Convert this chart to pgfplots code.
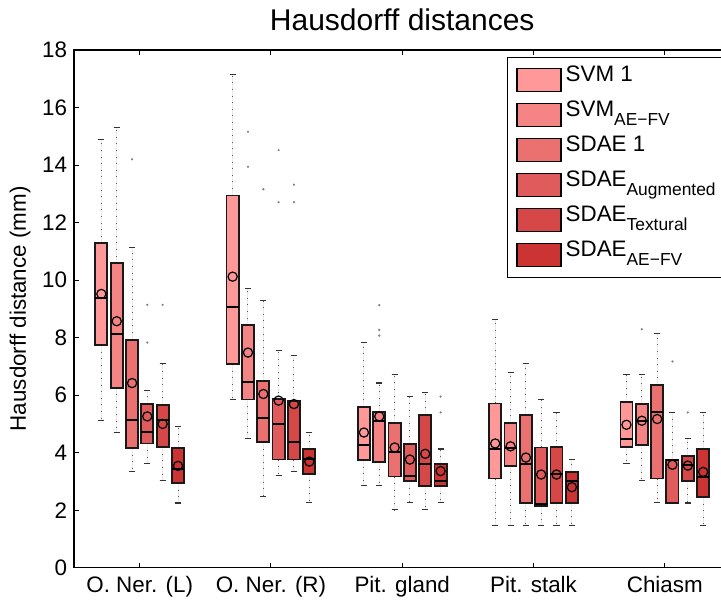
\documentclass[border=0pt]{standalone}
\usepackage{fontspec}
\setmainfont{Liberation Sans}
\usepackage{pgfplots}
\pgfplotsset{compat=1.18}
\usepgfplotslibrary{statistics}

\definecolor{c1}{RGB}{255,153,153}
\definecolor{c2}{RGB}{245,133,133}
\definecolor{c3}{RGB}{235,112,112}
\definecolor{c4}{RGB}{224,92,92}
\definecolor{c5}{RGB}{214,71,71}
\definecolor{c6}{RGB}{204,51,51}

\newcommand{\sub}[1]{\raisebox{-4.5pt}{\fontsize{8.7}{10}\selectfont #1}}

\pgfplotsset{
  /pgfplots/boxplot/draw/lower whisker/.code={%
    \draw[black!65, line width=0.5pt, dash pattern=on 0.5pt off 2.8pt]
      (boxplot box cs:\pgfplotsboxplotvalue{lower quartile},0.5) --
      (boxplot box cs:\pgfplotsboxplotvalue{lower whisker},0.5);
    \draw[black!80, line width=0.6pt]
      (boxplot whisker cs:\pgfplotsboxplotvalue{lower whisker},0) --
      (boxplot whisker cs:\pgfplotsboxplotvalue{lower whisker},1);
  },
  /pgfplots/boxplot/draw/upper whisker/.code={%
    \draw[black!65, line width=0.5pt, dash pattern=on 0.5pt off 2.8pt]
      (boxplot box cs:\pgfplotsboxplotvalue{upper quartile},0.5) --
      (boxplot box cs:\pgfplotsboxplotvalue{upper whisker},0.5);
    \draw[black!80, line width=0.6pt]
      (boxplot whisker cs:\pgfplotsboxplotvalue{upper whisker},0) --
      (boxplot whisker cs:\pgfplotsboxplotvalue{upper whisker},1);
  },
  /pgfplots/boxplot/draw/median/.code={%
    \draw[black, line width=1pt]
      (boxplot box cs:\pgfplotsboxplotvalue{median},0) --
      (boxplot box cs:\pgfplotsboxplotvalue{median},1);
  },
  hbox/.style={forget plot, draw=black!90, line width=0.9pt,
    mark=*, mark size=0.45pt, mark options={draw=gray, fill=gray, line width=0.2pt},
    boxplot/draw direction=y,
    boxplot/box extend=0.092, boxplot/whisker extend=0.046},
  mean/.style={forget plot, only marks, mark=o, mark size=2.3pt,
    mark options={draw=black, line width=0.6pt}},
  swatch/.style={legend image code/.code={%
    \draw[##1, draw=black, line width=0.6pt] (0pt,-5.75pt) rectangle (22pt,5.75pt);}},
}

% box without outliers: position, colour, lower whisker, lower quartile, median, upper quartile, upper whisker
\newcommand{\bx}[7]{%
  \addplot[hbox, fill=#2, boxplot prepared={draw position=#1, lower whisker=#3,
    lower quartile=#4, median=#5, upper quartile=#6, upper whisker=#7}] coordinates {};}
% same, with outliers in #8
\newcommand{\bxo}[8]{%
  \addplot[hbox, fill=#2, boxplot prepared={draw position=#1, lower whisker=#3,
    lower quartile=#4, median=#5, upper quartile=#6, upper whisker=#7}]
    table[row sep=\\, y index=0] {data\\ #8};}

\begin{document}
\begin{tikzpicture}
\begin{axis}[
  scale only axis, width=328.3pt, height=258.9pt,
  xmin=0.5, xmax=5.5, ymin=0, ymax=18,
  xtick={1,2,3,4,5},
  xticklabels={O. Ner. (L),O. Ner. (R),Pit. gland,Pit. stalk,Chiasm},
  ytick={0,2,...,18},
  tick align=inside, major tick length=2.5pt,
  axis line style={line width=0.6pt},
  every tick/.style={black, line width=0.5pt},
  tick label style={font=\fontsize{11.2}{13}\selectfont},
  xticklabel style={yshift=-1pt},
  /pgf/number format/assume math mode=true,
  title={Hausdorff distances},
  every axis title/.style={font=\fontsize{15}{18}\selectfont,
    at={(axis description cs:0.5,1)}, anchor=base, yshift=10pt},
  ylabel={Hausdorff distance (mm)},
  ylabel style={font=\fontsize{11.2}{13}\selectfont,
    at={(axis description cs:-0.0823,0.5)}, anchor=center},
  legend cell align=left,
  legend style={at={(axis description cs:0.6594,0.986)}, anchor=north west,
    draw=black, line width=0.6pt, font=\fontsize{11.2}{13}\selectfont,
    inner xsep=4.5pt, inner ysep=2.5pt, row sep=0pt,
    nodes={text height=9pt, text depth=7.5pt, inner ysep=0.5pt, inner xsep=2pt}},
]
% O. Ner. (L)
\bx{0.708}{c1}{5.12}{7.74}{9.39}{11.28}{14.90}
\bx{0.825}{c2}{4.71}{6.26}{8.13}{10.59}{15.31}
\bxo{0.942}{c3}{3.34}{4.16}{5.12}{7.93}{11.13}{14.20\\}
\bxo{1.058}{c4}{3.62}{4.32}{4.71}{5.69}{6.17}{9.14\\ 7.83\\}
\bxo{1.175}{c5}{3.02}{4.19}{5.13}{5.66}{7.10}{9.14\\}
\bx{1.292}{c6}{2.25}{2.94}{3.44}{4.15}{4.91}
% O. Ner. (R)
\bx{1.708}{c1}{5.86}{7.08}{9.08}{12.94}{17.16}
\bxo{1.825}{c2}{4.49}{5.85}{6.44}{8.43}{9.72}{15.16\\ 13.94\\}
\bxo{1.942}{c3}{2.48}{4.37}{5.21}{6.50}{9.30}{13.16\\}
\bxo{2.058}{c4}{3.20}{3.76}{5.01}{5.86}{7.56}{14.52\\ 12.71\\}
\bxo{2.175}{c5}{3.34}{3.76}{4.38}{5.80}{7.38}{13.32\\ 12.71\\}
\bx{2.292}{c6}{2.26}{3.27}{3.78}{4.13}{4.71}
% Pit. gland
\bx{2.708}{c1}{2.85}{3.74}{4.26}{5.59}{7.83}
\bxo{2.825}{c2}{2.85}{3.67}{5.11}{5.41}{6.42}{9.13\\ 8.27\\ 8.07\\}
\bx{2.942}{c3}{2.02}{3.17}{4.02}{5.03}{6.73}
\bx{3.058}{c4}{2.26}{3.01}{3.19}{4.31}{5.94}
\bx{3.175}{c5}{2.02}{2.84}{3.62}{5.31}{6.10}
\bxo{3.292}{c6}{2.26}{2.84}{3.02}{3.61}{4.13}{5.95\\ 5.40\\}
% Pit. stalk
\bx{3.708}{c1}{1.46}{3.10}{4.13}{5.71}{8.63}
\bx{3.825}{c2}{1.46}{3.55}{4.15}{5.03}{6.80}
\bx{3.942}{c3}{1.46}{2.25}{3.62}{5.31}{7.10}
\bx{4.058}{c4}{1.46}{2.14}{2.23}{4.18}{5.85}
\bx{4.175}{c5}{1.46}{2.25}{3.26}{4.19}{5.40}
\bx{4.292}{c6}{1.46}{2.25}{3.02}{3.33}{3.76}
% Chiasm
\bx{4.708}{c1}{3.62}{4.19}{4.49}{5.76}{6.73}
\bxo{4.825}{c2}{3.02}{4.26}{5.11}{5.69}{6.73}{8.29\\}
\bx{4.942}{c3}{2.26}{3.10}{5.41}{6.35}{8.14}
\bxo{5.058}{c4}{2.25}{2.25}{3.75}{3.76}{5.40}{7.17\\}
\bxo{5.175}{c5}{2.25}{3.01}{3.57}{3.89}{4.49}{5.40\\}
\bx{5.292}{c6}{1.46}{2.46}{3.16}{4.13}{5.40}

% means
\addplot[mean] coordinates {(0.708,9.52) (1.708,10.12) (2.708,4.70) (3.708,4.32) (4.708,4.97)};
\addplot[mean] coordinates {(0.825,8.57) (1.825,7.48) (2.825,5.26) (3.825,4.22) (4.825,5.11)};
\addplot[mean] coordinates {(0.942,6.42) (1.942,6.04) (2.942,4.18) (3.942,3.83) (4.942,5.17)};
\addplot[mean] coordinates {(1.058,5.26) (2.058,5.81) (3.058,3.76) (4.058,3.24) (5.058,3.58)};
\addplot[mean] coordinates {(1.175,5.00) (2.175,5.69) (3.175,3.96) (4.175,3.24) (5.175,3.55)};
\addplot[mean] coordinates {(1.292,3.54) (2.292,3.69) (3.292,3.36) (4.292,2.80) (5.292,3.33)};

\addlegendimage{swatch, fill=c1}\addlegendentry{SVM 1}
\addlegendimage{swatch, fill=c2}\addlegendentry{SVM\sub{AE\textminus FV}}
\addlegendimage{swatch, fill=c3}\addlegendentry{SDAE 1}
\addlegendimage{swatch, fill=c4}\addlegendentry{SDAE\sub{Augmented}}
\addlegendimage{swatch, fill=c5}\addlegendentry{SDAE\sub{Textural}}
\addlegendimage{swatch, fill=c6}\addlegendentry{SDAE\sub{AE\textminus FV}}

\coordinate (bbl) at (axis cs:-0.064,-1.158);
\coordinate (btr) at (axis cs:5.428,19.74);
\end{axis}
\pgfresetboundingbox
\useasboundingbox (bbl) rectangle (btr);
\end{tikzpicture}
\end{document}
